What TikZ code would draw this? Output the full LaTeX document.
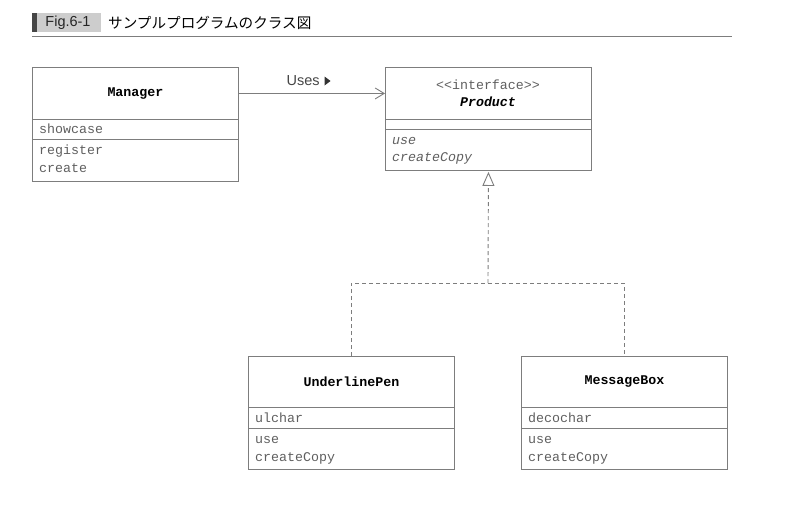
\documentclass[tikz,border=0pt]{standalone}
\usepackage{fontspec}
\setmainfont{Liberation Sans}
\setsansfont{Liberation Sans}
\setmonofont{Liberation Mono}
\newfontfamily\cjk{Noto Sans CJK JP}
\usetikzlibrary{arrows.meta}
\definecolor{linegray}{RGB}{125,125,125}
\definecolor{txtgray}{RGB}{95,95,95}
\definecolor{tabdark}{RGB}{70,70,70}
\definecolor{tablight}{RGB}{205,205,205}
\tikzset{
  cbox/.style={draw=linegray, line width=0.9pt, minimum width=206pt, inner sep=0pt, anchor=north west},
  mtext/.style={font=\fontsize{13.3}{15}\selectfont\ttfamily, text=txtgray, inner sep=0pt, anchor=west},
  ntext/.style={font=\fontsize{13.3}{15}\selectfont\ttfamily\bfseries, text=black, inner sep=0pt},
  dashline/.style={draw=linegray, line width=0.9pt, dash pattern=on 4pt off 3pt}
}
\begin{document}
\begin{tikzpicture}[x=1pt,y=-1pt]
\useasboundingbox (0,0) rectangle (797,509);
% title
\fill[tabdark] (32,13) rectangle (37,32);
\fill[tablight] (37,13) rectangle (101,32);
\node[inner sep=0pt, font=\fontsize{14.5}{16}\selectfont\sffamily, text=black!85, anchor=center] (figlabel) at (68,23) {Fig.6-1};
\node[inner sep=0pt, font=\fontsize{14.6}{16}\selectfont\cjk, anchor=west] (figtitle) at (108,22.5) {サンプルプログラムのクラス図};
\draw[linegray, line width=0.9pt] (32,36.5) -- (732,36.5);

% Manager
\node[cbox, minimum height=52pt] (mgrname) at (32,67) {};
\node[cbox, minimum height=20pt] (mgrattr) at (32,119) {};
\node[cbox, minimum height=42pt] (mgrops) at (32,139) {};
\node[ntext] (mgrlbl) at (mgrname.center) {Manager};
\node[mtext] (mgra1) at (39,129) {showcase};
\node[mtext] (mgro1) at (39,151) {register};
\node[mtext] (mgro2) at (39,168.5) {create};

% Product
\node[cbox, minimum height=52pt] (prodname) at (385,67) {};
\node[cbox, minimum height=10pt] (prodattr) at (385,119) {};
\node[cbox, minimum height=41pt] (prodops) at (385,129) {};
\node[ntext, font=\fontsize{13.3}{15}\selectfont\ttfamily\mdseries, text=txtgray] (prodst) at (488,85) {<{}<interface>{}>};
\node[ntext, font=\fontsize{13.3}{15}\selectfont\ttfamily\bfseries\itshape] (prodlbl) at (488,102) {Product};
\node[mtext, font=\fontsize{13.3}{15}\selectfont\ttfamily\itshape] (prodo1) at (392,141) {use};
\node[mtext, font=\fontsize{13.3}{15}\selectfont\ttfamily\itshape] (prodo2) at (392,158.5) {createCopy};

% UnderlinePen
\node[cbox, minimum height=51pt] (upname) at (248,356) {};
\node[cbox, minimum height=21pt] (upattr) at (248,407) {};
\node[cbox, minimum height=41pt] (upops) at (248,428) {};
\node[ntext] (uplbl) at (upname.center) {UnderlinePen};
\node[mtext] (upa1) at (255,418) {ulchar};
\node[mtext] (upo1) at (255,440) {use};
\node[mtext] (upo2) at (255,458) {createCopy};

% MessageBox
\node[cbox, minimum height=51pt] (mbname) at (521,356) {};
\node[cbox, minimum height=21pt] (mbattr) at (521,407) {};
\node[cbox, minimum height=41pt] (mbops) at (521,428) {};
\node[ntext] (mblbl) at (mbname.center) {MessageBox};
\node[mtext] (mba1) at (528,418) {decochar};
\node[mtext] (mbo1) at (528,440) {use};
\node[mtext] (mbo2) at (528,458) {createCopy};

% Uses association
\draw[linegray, line width=0.9pt, -{Straight Barb[length=9pt,width=11pt,line width=0.9pt]}] (mgrname.east) -- (prodname.west);
\node[inner sep=0pt, font=\fontsize{14.5}{16}\selectfont\sffamily, text=tabdark, anchor=west] (uses) at (286.5,81) {Uses};
\fill[black!80] (324.5,76.5) -- (330.5,81) -- (324.5,85.5) -- cycle;

% realization
\coordinate (junc) at (488,283);
\draw[dashline] (upname.north) |- (junc) -| (mbname.north);
\draw[dashline, -{Triangle[open, length=14pt, width=12pt, line width=0.9pt, sep=0pt]}, shorten >=1pt] (junc) -- (prodops.south);
\end{tikzpicture}
\end{document}
